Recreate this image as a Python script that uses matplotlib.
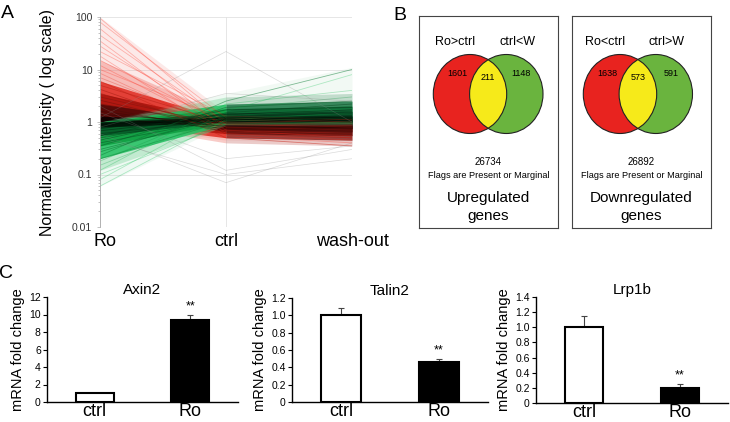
import matplotlib.pyplot as plt
import numpy as np
from matplotlib.patches import Ellipse
from matplotlib.colors import LinearSegmentedColormap, LogNorm
from matplotlib.transforms import ScaledTranslation

plt.rcParams['font.family'] = ['Liberation Sans', 'DejaVu Sans']

# ---- panel A: normalized intensity profiles (Ro, ctrl, wash-out)
conditions = ["Ro", "ctrl", "wash-out"]

# representative individual profiles
up_ro = [95, 80, 60, 45, 35, 28, 22, 18, 15, 12, 10, 8.5, 7, 6, 5, 4.2, 3.5, 3, 2.6, 2.2, 1.9, 1.6, 1.4, 1.25, 1.1]
up_ctrl = [0.9, 1.2, 0.7, 1.0, 0.6, 0.8, 1.3, 0.55, 0.9, 0.7, 1.1, 0.65, 0.8, 0.5, 0.95, 0.6, 0.75, 0.85, 0.7, 0.9, 0.65, 0.8, 0.95, 0.75, 0.85]
up_wash = [0.8, 1.0, 0.5, 0.9, 0.45, 0.7, 1.1, 0.4, 0.8, 0.6, 0.95, 0.55, 0.75, 0.35, 0.85, 0.5, 0.7, 0.8, 0.65, 0.85, 0.6, 0.75, 0.9, 0.7, 0.8]

dn_ro = [0.06, 0.08, 0.1, 0.12, 0.15, 0.18, 0.2, 0.23, 0.27, 0.3, 0.35, 0.4, 0.45, 0.5, 0.55, 0.6, 0.68, 0.75, 0.82, 0.9]
dn_ctrl = [1.1, 1.6, 0.9, 2.2, 1.3, 1.8, 1.05, 2.5, 1.4, 1.2, 1.9, 1.15, 1.5, 1.3, 1.7, 1.1, 1.25, 1.4, 1.2, 1.1]
dn_wash = [1.5, 8.0, 1.0, 4.0, 1.8, 3.0, 1.2, 10, 2.0, 1.4, 2.5, 1.3, 2.2, 1.6, 1.9, 1.2, 1.5, 1.7, 1.3, 1.2]

odd_ro = [1.2, 0.6, 0.5, 2.0, 1.5, 0.8]
odd_ctrl = [22, 0.07, 0.1, 0.12, 0.2, 3.5]
odd_wash = [1.0, 0.4, 0.2, 0.3, 0.35, 2.5]

# density envelopes, outer -> inner: (low, high) at Ro, ctrl, wash-out
up_lo = [[1.0, 0.45, 0.4], [1.0, 0.4, 0.35], [1.0, 0.5, 0.45], [1.0, 0.6, 0.55], [1.0, 0.7, 0.65], [1.0, 0.8, 0.75]]
up_hi = [[100, 1.5, 1.2], [15, 1.3, 1.15], [6.0, 1.1, 1.05], [3.5, 1.05, 1.0], [2.2, 1.0, 1.0], [1.3, 1.0, 0.95]]
dn_lo = [[0.06, 0.9, 1.0], [0.12, 0.85, 0.85], [0.2, 0.9, 0.9], [0.35, 0.95, 0.95], [0.55, 1.0, 1.0], [0.8, 1.0, 1.0]]
dn_hi = [[1.0, 3.5, 11], [1.0, 3.0, 3.5], [1.0, 2.2, 2.5], [1.0, 1.8, 2.0], [1.0, 1.5, 1.6], [1.0, 1.25, 1.3]]

# ---- panel B: Venn counts
up_counts = [1601, 211, 1148]
down_counts = [1638, 573, 591]
totals = [26734, 26892]

# ---- panel C: qPCR
genes = ["Axin2", "Talin2", "Lrp1b"]
groups = ["ctrl", "Ro"]
ctrl_mean = [1.0, 1.0, 1.0]
ctrl_err = [0.0, 0.09, 0.155]
ro_mean = [9.35, 0.46, 0.2]
ro_err = [0.65, 0.04, 0.055]
ymax = [12, 1.2, 1.4]
ystep = [2, 0.2, 0.2]

W, H = 730, 422
def box(l, t, r, b):
    return [l / W, 1 - b / H, (r - l) / W, (b - t) / H]

fig = plt.figure(figsize=(W / 100, H / 100), dpi=100)

# ================= A
axA = fig.add_axes(box(100, 17, 352, 227))
axA.set_yscale('log')
axA.set_ylim(0.01, 100)
axA.set_xlim(0, 2)
pos = [0, 1, 2]
axA.set_xticks(pos, conditions, fontsize=13)
axA.tick_params(axis='x', length=0, pad=4)
axA.get_xticklabels()[0].set_transform(
    axA.get_xticklabels()[0].get_transform() + ScaledTranslation(0.05, 0, fig.dpi_scale_trans))
axA.set_yticks([0.01, 0.1, 1, 10, 100], ["0.01", "0.1", "1", "10", "100"])
axA.tick_params(axis='y', which='both', labelsize=7.5, labelcolor='#333333', color='#aaaaaa', length=2, width=0.5)
axA.tick_params(axis='y', which='minor', length=1.2)
axA.grid(True, color='#e2e2e2', lw=0.6)
axA.set_axisbelow(True)
for s in ['top', 'right', 'bottom']:
    axA.spines[s].set_visible(False)
axA.spines['left'].set_color('#aaaaaa')
axA.spines['left'].set_linewidth(0.6)
axA.set_ylabel("Normalized intensity ( log scale)", fontsize=11.5, labelpad=12)

# colours per band: (Ro->ctrl segment, ctrl->wash segment, alpha)
up_style = [('#f08a84', '#e8b0b0', 0.18), ('#ec6a60', '#c86a66', 0.35), ('#e02a20', '#8a2a25', 0.85),
            ('#b0160f', '#6a1410', 0.95), ('#5a0a08', '#4a0c0a', 1.0), ('#120202', '#250606', 1.0)]
dn_style = [('#9ad8b0', '#a8d8b8', 0.15), ('#70d090', '#6aa884', 0.35), ('#22c060', '#1f7a48', 0.85),
            ('#12a044', '#0f6a38', 0.95), ('#07602a', '#0a4a28', 1.0), ('#021a0a', '#031a0c', 1.0)]
for lo, hi, (c1, c2, a) in zip(up_lo, up_hi, up_style):
    axA.fill_between(pos[:2], lo[:2], hi[:2], color=c1, alpha=a, lw=0)
    axA.fill_between(pos[1:], lo[1:], hi[1:], color=c2, alpha=a, lw=0)
for lo, hi, (c1, c2, a) in zip(dn_lo, dn_hi, dn_style):
    axA.fill_between(pos[:2], lo[:2], hi[:2], color=c1, alpha=a, lw=0)
    axA.fill_between(pos[1:], lo[1:], hi[1:], color=c2, alpha=a, lw=0)

cmap = LinearSegmentedColormap.from_list('rg', ['#10c050', '#000000', '#ff2a1a'])
norm = LogNorm(0.1, 10)
for ro, c, w in zip(up_ro + dn_ro, up_ctrl + dn_ctrl, up_wash + dn_wash):
    a = 0.3 if (ro > 6 or ro < 0.2) else 0.5
    axA.plot(pos, [ro, c, w], color=cmap(norm(ro)), lw=0.6, alpha=a)
for ro, c, w in zip(odd_ro, odd_ctrl, odd_wash):
    axA.plot(pos, [ro, c, w], color='#888888', lw=0.5, alpha=0.3)

fig.text(7 / W, 1 - 13 / H, "A", fontsize=14, ha='center', va='center')

# ================= B
def venn(ax, counts, total, labels, title, red_x, green_x):
    ax.set_xlim(0, 139)
    ax.set_ylim(212, 0)
    ax.set_xticks([])
    ax.set_yticks([])
    for s in ax.spines.values():
        s.set_color('#444444')
        s.set_linewidth(0.8)
    red = Ellipse((red_x, 78), 73.4, 79, facecolor='#e8231f', edgecolor='none')
    green = Ellipse((green_x, 78), 73.4, 79, facecolor='#6ab43e', edgecolor='none')
    ax.add_patch(red)
    ax.add_patch(green)
    yel = Ellipse((green_x, 78), 73.4, 79, facecolor='#f6ea1a', edgecolor='none')
    ax.add_patch(yel)
    yel.set_clip_path(red)
    for x in (red_x, green_x):
        ax.add_patch(Ellipse((x, 78), 73.4, 79, facecolor='none', edgecolor='#222222', lw=0.8))
    ax.text(red_x - 15, 26, labels[0], ha='center', va='center', fontsize=9)
    ax.text(green_x + 11, 26, labels[1], ha='center', va='center', fontsize=9)
    mid = (red_x + green_x) / 2
    ax.text(red_x - 13, 57, str(counts[0]), ha='center', va='center', fontsize=6.5)
    ax.text(mid, 61, str(counts[1]), ha='center', va='center', fontsize=6.5)
    ax.text(green_x + 15, 57, str(counts[2]), ha='center', va='center', fontsize=6.5)
    ax.text(69.5, 146, str(total), ha='center', va='center', fontsize=7)
    ax.text(69.5, 160, "Flags are Present or Marginal", ha='center', va='center', fontsize=6.6)
    ax.text(69.5, 182, title, ha='center', va='center', fontsize=11)
    ax.text(69.5, 200, "genes", ha='center', va='center', fontsize=11)

axB1 = fig.add_axes(box(419, 16, 558, 228))
venn(axB1, up_counts, totals[0], ["Ro>ctrl", "ctrl<W"], "Upregulated", 51, 87.3)
axB2 = fig.add_axes(box(572, 16, 711, 228))
venn(axB2, down_counts, totals[1], ["Ro<ctrl", "ctrl>W"], "Downregulated", 48, 83.8)
fig.text(400 / W, 1 - 15 / H, "B", fontsize=14, ha='center', va='center')

# ================= C
c_boxes = [(47, 297, 238, 402), (292, 298, 488, 402), (536, 297, 728, 403)]
for i, g in enumerate(genes):
    ax = fig.add_axes(box(*c_boxes[i]))
    ax.bar([0, 1], [ctrl_mean[i], ro_mean[i]], width=0.4,
           color=['white', 'black'], edgecolor='black', lw=1.5, zorder=2)
    ax.errorbar([0, 1], [ctrl_mean[i], ro_mean[i]],
                yerr=[[0, 0], [ctrl_err[i], ro_err[i]]],
                fmt='none', ecolor='#444444', elinewidth=0.8, capsize=2, capthick=0.8, zorder=1)
    ax.annotate("**", (1, ro_mean[i] + ro_err[i]), xytext=(0, 6), textcoords='offset points',
                ha='center', va='center', fontsize=9)
    ax.set_xlim(-0.5, 1.5)
    ax.set_ylim(0, ymax[i])
    ticks = np.arange(0, ymax[i] + ystep[i] / 2, ystep[i])
    if ystep[i] < 1:
        labs = ["0"] + [f"{t:.1f}" for t in ticks[1:]]
    else:
        labs = [f"{int(t)}" for t in ticks]
    ax.set_yticks(ticks, labs)
    ax.set_xticks([0, 1], groups, fontsize=13)
    ax.tick_params(axis='x', length=0, pad=1)
    ax.tick_params(axis='y', labelsize=7.5, length=3, width=0.8, pad=1.5)
    ax.spines['top'].set_visible(False)
    ax.spines['right'].set_visible(False)
    ax.spines['left'].set_linewidth(1.0)
    ax.spines['bottom'].set_linewidth(1.0)
    ax.set_ylabel("mRNA fold change", fontsize=10.5, labelpad=3)
    ax.set_title(g, fontsize=11, pad=2)
fig.text(6 / W, 1 - 274 / H, "C", fontsize=14, ha='center', va='center')

fig.savefig("out.png", dpi=100)
